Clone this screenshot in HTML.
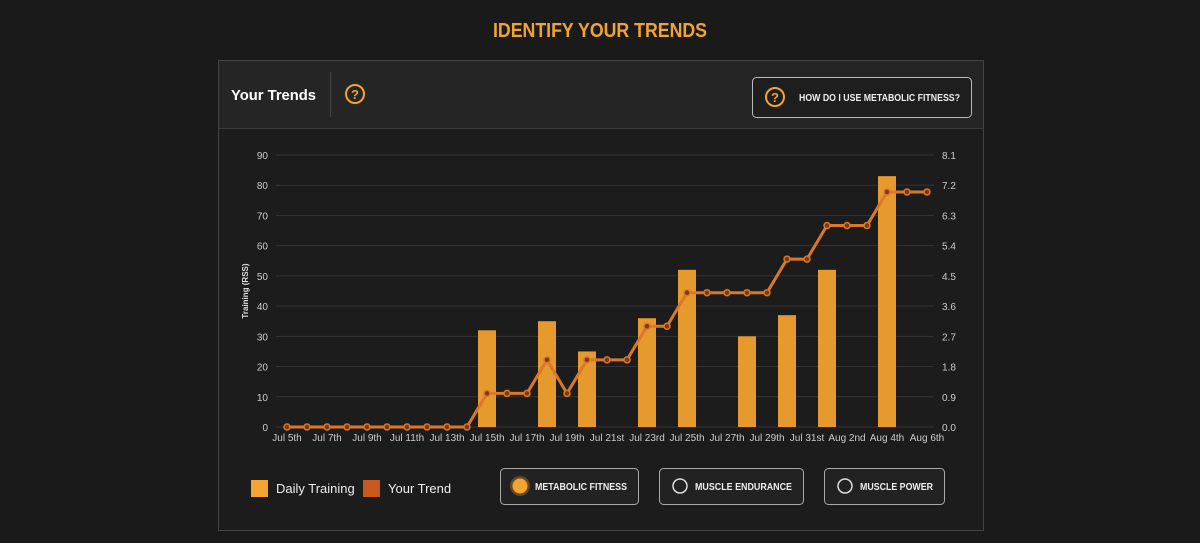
<!DOCTYPE html>
<html><head><meta charset="utf-8"><style>
html,body{margin:0;padding:0;background:#1a1a1a;}
svg{display:block;font-family:"Liberation Sans",sans-serif;}
</style></head><body>
<svg id="s" width="1200" height="543" viewBox="0 0 1200 543">
<rect width="1200" height="543" fill="#1a1a1a"/>
<text x="600" y="37" text-anchor="middle" font-size="20" font-weight="bold" fill="#f0a433" textLength="214" lengthAdjust="spacingAndGlyphs">IDENTIFY YOUR TRENDS</text>
<rect x="218.5" y="60.5" width="765" height="470" fill="#1c1c1c" stroke="#444"/>
<rect x="219" y="61" width="764" height="67" fill="#252525"/>
<line x1="219" y1="128.5" x2="983" y2="128.5" stroke="#3a3a3a"/>
<text x="231" y="100" font-size="15" font-weight="bold" fill="#fff" textLength="85" lengthAdjust="spacingAndGlyphs">Your Trends</text>
<line x1="330.5" y1="72" x2="330.5" y2="117" stroke="#444"/>
<circle cx="355" cy="94" r="9" fill="none" stroke="#f0a433" stroke-width="2"/>
<text x="355" y="99" text-anchor="middle" font-size="13" font-weight="bold" fill="#f0a433">?</text>
<rect x="752.5" y="77.5" width="219" height="40" rx="4" fill="#1e1e1e" stroke="#bbb"/>
<circle cx="775" cy="97" r="9" fill="none" stroke="#f0a433" stroke-width="2"/>
<text x="775" y="102" text-anchor="middle" font-size="13" font-weight="bold" fill="#f0a433">?</text>
<text x="799" y="101" font-size="10" font-weight="bold" fill="#eee" textLength="161" lengthAdjust="spacingAndGlyphs">HOW DO I USE METABOLIC FITNESS?</text>
<g id="chart"></g>
<text transform="translate(248,291) rotate(-90)" text-anchor="middle" font-size="8" font-weight="bold" fill="#ddd">Training (RSS)</text>
<rect x="251" y="480" width="17" height="17" fill="#f5a431"/>
<text x="276" y="493" font-size="13" fill="#eee">Daily Training</text>
<rect x="363" y="480" width="17" height="17" fill="#c9581f"/>
<text x="388" y="493" font-size="13" fill="#eee">Your Trend</text>
<rect x="500.5" y="468.5" width="138" height="36" rx="4" fill="#222" stroke="#aaa"/>
<circle cx="520" cy="486" r="10" fill="#f5a431" opacity="0.3"/>
<circle cx="520" cy="486" r="7.5" fill="#f5a431"/>
<text x="535" y="490" font-size="10" font-weight="bold" fill="#eee" textLength="92" lengthAdjust="spacingAndGlyphs">METABOLIC FITNESS</text>
<rect x="659.5" y="468.5" width="144" height="36" rx="4" fill="#222" stroke="#aaa"/>
<circle cx="680" cy="486" r="7" fill="none" stroke="#ddd" stroke-width="1.5"/>
<text x="695" y="490" font-size="10" font-weight="bold" fill="#eee" textLength="97" lengthAdjust="spacingAndGlyphs">MUSCLE ENDURANCE</text>
<rect x="824.5" y="468.5" width="120" height="36" rx="4" fill="#222" stroke="#aaa"/>
<circle cx="845" cy="486" r="7" fill="none" stroke="#ddd" stroke-width="1.5"/>
<text x="860" y="490" font-size="10" font-weight="bold" fill="#eee" textLength="73" lengthAdjust="spacingAndGlyphs">MUSCLE POWER</text>
</svg>
<script>
var g=document.getElementById('chart'),h='';
var y0=427,sc=272/90;
for(var i=0;i<=9;i++){var y=y0-i*10*sc;
h+='<line x1="276" y1="'+y+'" x2="934" y2="'+y+'" stroke="#333" stroke-width="1"/>';
h+='<text x="268" y="'+(y+4)+'" text-anchor="end" font-size="10" fill="#ccc">'+(i*10)+'</text>';
h+='<text x="942" y="'+(y+4)+'" font-size="10" fill="#ccc">'+(i*0.9).toFixed(1)+'</text>';}
var X=function(d){return 287+d*20;};
var bars={10:32,13:35,15:25,18:36,20:52,23:30,25:37,27:52,30:83};
for(var d in bars){var v=bars[d];h+='<rect x="'+(X(+d)-9)+'" y="'+(y0-v*sc)+'" width="18" height="'+(v*sc)+'" fill="#e69a2e"/>';}
var t=[0,0,0,0,0,0,0,0,0,0,1,1,1,2,1,2,2,2,3,3,4,4,4,4,4,5,5,6,6,6,7,7,7];
var pts=t.map(function(v,d){return X(d)+','+(y0-v*10*sc/0.9*0.9*1.111);});
h+='<polyline points="'+pts.join(' ')+'" fill="none" stroke="#d9782a" stroke-width="3"/>';
t.forEach(function(v,d){var y=y0-v*11.11*sc;h+='<circle cx="'+X(d)+'" cy="'+y+'" r="3" fill="#7a3a12" stroke="#d9782a" stroke-width="1.5"/>';});
var labs=['Jul 5th','Jul 7th','Jul 9th','Jul 11th','Jul 13th','Jul 15th','Jul 17th','Jul 19th','Jul 21st','Jul 23rd','Jul 25th','Jul 27th','Jul 29th','Jul 31st','Aug 2nd','Aug 4th','Aug 6th'];
labs.forEach(function(l,i){h+='<text x="'+X(i*2)+''+'" y="441" text-anchor="middle" font-size="10" fill="#ccc">'+l+'</text>';});
g.innerHTML=h;
</script>
</body></html>
